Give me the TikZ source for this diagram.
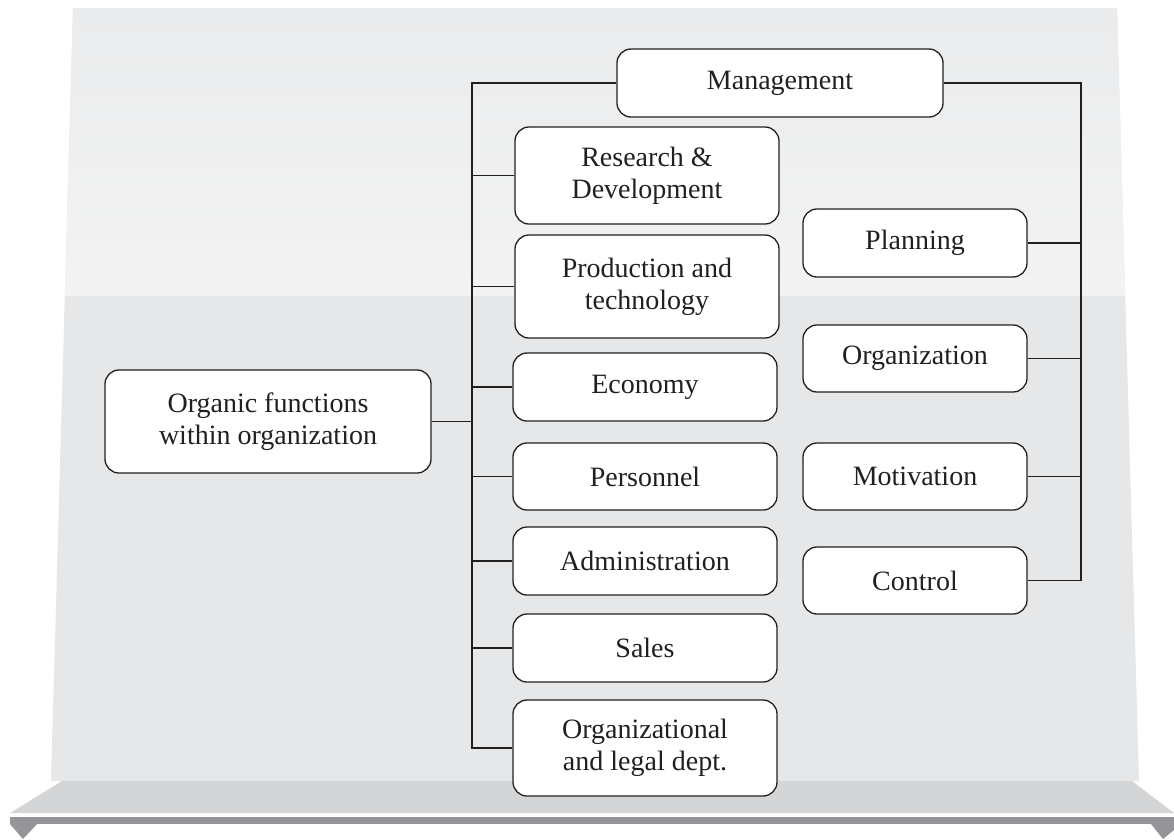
\documentclass[tikz,border=0pt]{standalone}
\usepackage{fontspec}
\setmainfont{Liberation Serif}
\usetikzlibrary{calc}
\definecolor{panelhi}{RGB}{234,235,236}
\definecolor{panello}{RGB}{243,243,243}
\definecolor{panel}{RGB}{230,231,232}
\definecolor{shelf}{RGB}{212,213,214}
\definecolor{shelfdk}{RGB}{147,149,152}
\definecolor{ink}{RGB}{35,31,32}

\begin{document}
\begin{tikzpicture}[x=1pt,y=-1pt,
    box/.style={draw=ink,line width=1.3pt,rounded corners=14pt,fill=white,align=center,inner sep=0pt,
      text=ink,font=\fontsize{28}{32}\selectfont},
    wide/.style={box,minimum width=326pt},
    mid/.style={box,minimum width=264pt},
    small/.style={box,minimum width=224pt},
    link/.style={draw=ink,line width=1.7pt},
    thin/.style={draw=ink,line width=1.2pt}]
  \useasboundingbox (0,0) rectangle (1174,839);
  % background board and shelf
  \coordinate(P1)at(73,8);\coordinate(P2)at(1117,8);\coordinate(P3)at(1139,781);\coordinate(P4)at(51,781);
  \fill[panel](P1)--(P2)--(P3)--(P4)--cycle;
  \begin{scope}
    \clip(P1)--(P2)--(P3)--(P4)--cycle;
    \shade[top color=panelhi,bottom color=panello](0,8)rectangle(1174,295);
  \end{scope}
  \fill[shelf](10,813)--(62,781)--(1132,781)--(1174,813)--cycle;
  \fill[shelfdk](10,817)rectangle(1174,824);
  \fill[shelfdk](10,824)--(37,824)--(23,839)--cycle;
  \fill[shelfdk](1151,824)--(1174,824)--(1174,830)--(1163,839)--cycle;

  % nodes
  \node[wide,minimum height=103pt](organic)at(268,421.5){Organic functions\\within organization};
  \node[wide,minimum height=68pt](mgmt)at(780,83){Management};
  \node[mid,minimum height=97pt](rd)at(647,175.5){Research \&\\Development};
  \node[mid,minimum height=103pt](prod)at(647,286.5){Production and\\technology};
  \node[mid,minimum height=68pt](econ)at(645,387){Economy};
  \node[mid,minimum height=67pt](pers)at(645,476.5){Personnel};
  \node[mid,minimum height=68pt](admin)at(645,561){Administration};
  \node[mid,minimum height=68pt](sales)at(645,648){Sales};
  \node[mid,minimum height=96pt](legal)at(645,748){Organizational\\and legal dept.};
  \node[small,minimum height=68pt](plan)at(915,243){Planning};
  \node[small,minimum height=67pt](orgn)at(915,358.5){Organization};
  \node[small,minimum height=67pt](motiv)at(915,476.5){Motivation};
  \node[small,minimum height=67pt](ctrl)at(915,580.5){Control};

  % connectors
  \coordinate(lb)at(472,0);\coordinate(rb)at(1081,0);
  \draw[link](organic.east)--(organic.east -| lb);
  \draw[link](mgmt.west)--(mgmt.west -| lb)--(lb |- legal.west)--(legal.west);
  \foreach \n in{rd,prod,econ,pers,admin,sales}{
    \draw[link](lb |- \n.west)--(\n.west);
  }
  \draw[thin](mgmt.east)--(mgmt.east -| rb)--(rb |- ctrl.east)--(ctrl.east);
  \foreach \n in{plan,orgn,motiv}{
    \draw[thin](\n.east)--(\n.east -| rb);
  }
\end{tikzpicture}
\end{document}
